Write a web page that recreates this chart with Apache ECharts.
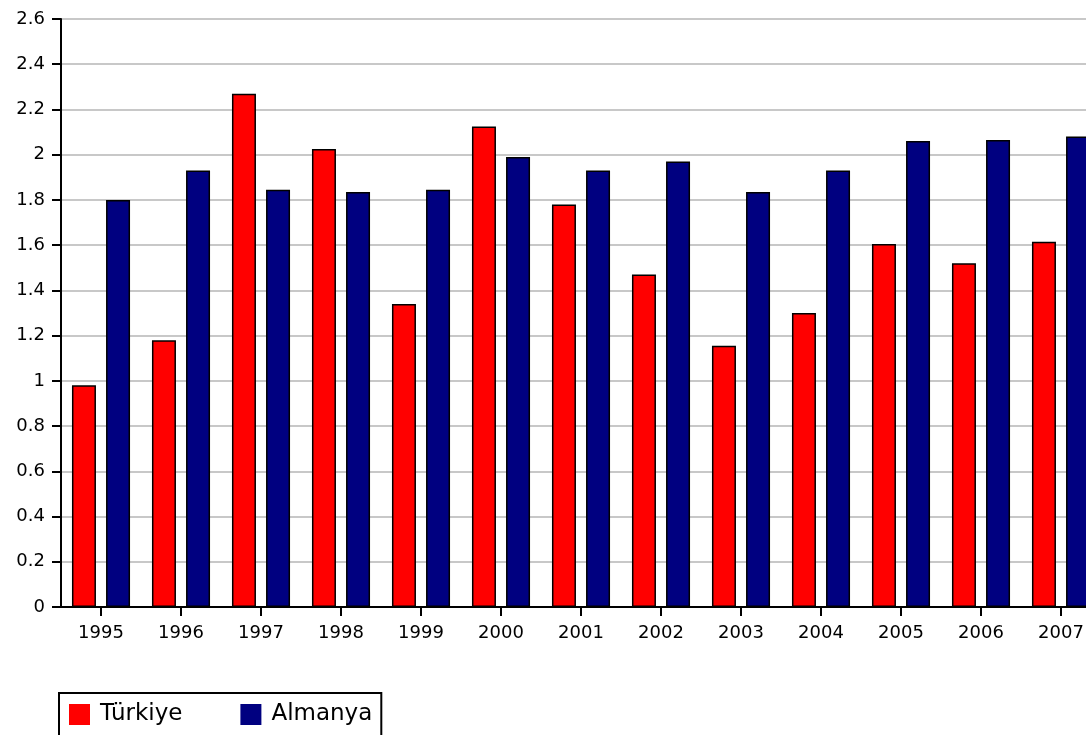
<!DOCTYPE html>
<html>
<head>
<meta charset="utf-8">
<script src="https://cdn.jsdelivr.net/npm/echarts@6/dist/echarts.min.js"></script>
<style>
html,body{margin:0;padding:0;background:#fff;}
#chart{width:1086px;height:735px;}
</style>
</head>
<body>
<div id="chart"></div>
<script>
var years = ['1995','1996','1997','1998','1999','2000','2001','2002','2003','2004','2005','2006','2007'];
var turkiye = [0.98, 1.18, 2.27, 2.025, 1.34, 2.125, 1.78, 1.47, 1.155, 1.30, 1.605, 1.52, 1.615];
var almanya = [1.80, 1.93, 1.845, 1.835, 1.845, 1.99, 1.93, 1.97, 1.835, 1.93, 2.06, 2.065, 2.08];
var seriesNames = ['Türkiye', 'Almanya'];

var chart = echarts.init(document.getElementById('chart'));
var font = 'DejaVu Sans';
chart.setOption({
  animation: false,
  backgroundColor: '#fff',
  grid: {
    left: 61, top: 19, width: 1040, bottom: 128,
    outerBoundsMode: 'none',
    containLabel: false,
    show: true, borderColor: '#000', borderWidth: 2, backgroundColor: 'transparent'
  },
  legend: {
    left: 59, top: 693,
    orient: 'horizontal',
    data: seriesNames,
    icon: 'rect',
    itemWidth: 21, itemHeight: 21,
    itemGap: 58,
    padding: [10, 9, 10, 10],
    borderColor: '#000', borderWidth: 2,
    itemStyle: { borderWidth: 0 },
    textStyle: { fontFamily: font, fontSize: 23, color: '#000', padding: [0, 0, 0, 5], lineHeight: 21 }
  },
  xAxis: {
    type: 'category',
    data: years,
    axisLine: { lineStyle: { color: '#000', width: 2 } },
    axisTick: { show: true, alignWithLabel: true, length: 9, lineStyle: { color: '#000', width: 2 } },
    axisLabel: { fontFamily: font, fontSize: 18, color: '#000', margin: 17 },
    splitLine: { show: false }
  },
  yAxis: {
    type: 'value',
    min: 0, max: 2.6, interval: 0.2,
    axisLine: { show: true, lineStyle: { color: '#000', width: 2 } },
    axisTick: { show: true, length: 9, lineStyle: { color: '#000', width: 2 } },
    axisLabel: { fontFamily: font, fontSize: 18, color: '#000', margin: 16 },
    splitLine: { show: true, lineStyle: { color: '#c8c8c8', width: 2 } }
  },
  series: [
    {
      name: seriesNames[0], type: 'bar', data: turkiye,
      barWidth: 24, barGap: '42%',
      itemStyle: { color: '#ff0000', borderColor: '#000', borderWidth: 1.5 }
    },
    {
      name: seriesNames[1], type: 'bar', data: almanya,
      barWidth: 24,
      itemStyle: { color: '#000080', borderColor: '#000', borderWidth: 1.5 }
    }
  ]
});
</script>
</body>
</html>
